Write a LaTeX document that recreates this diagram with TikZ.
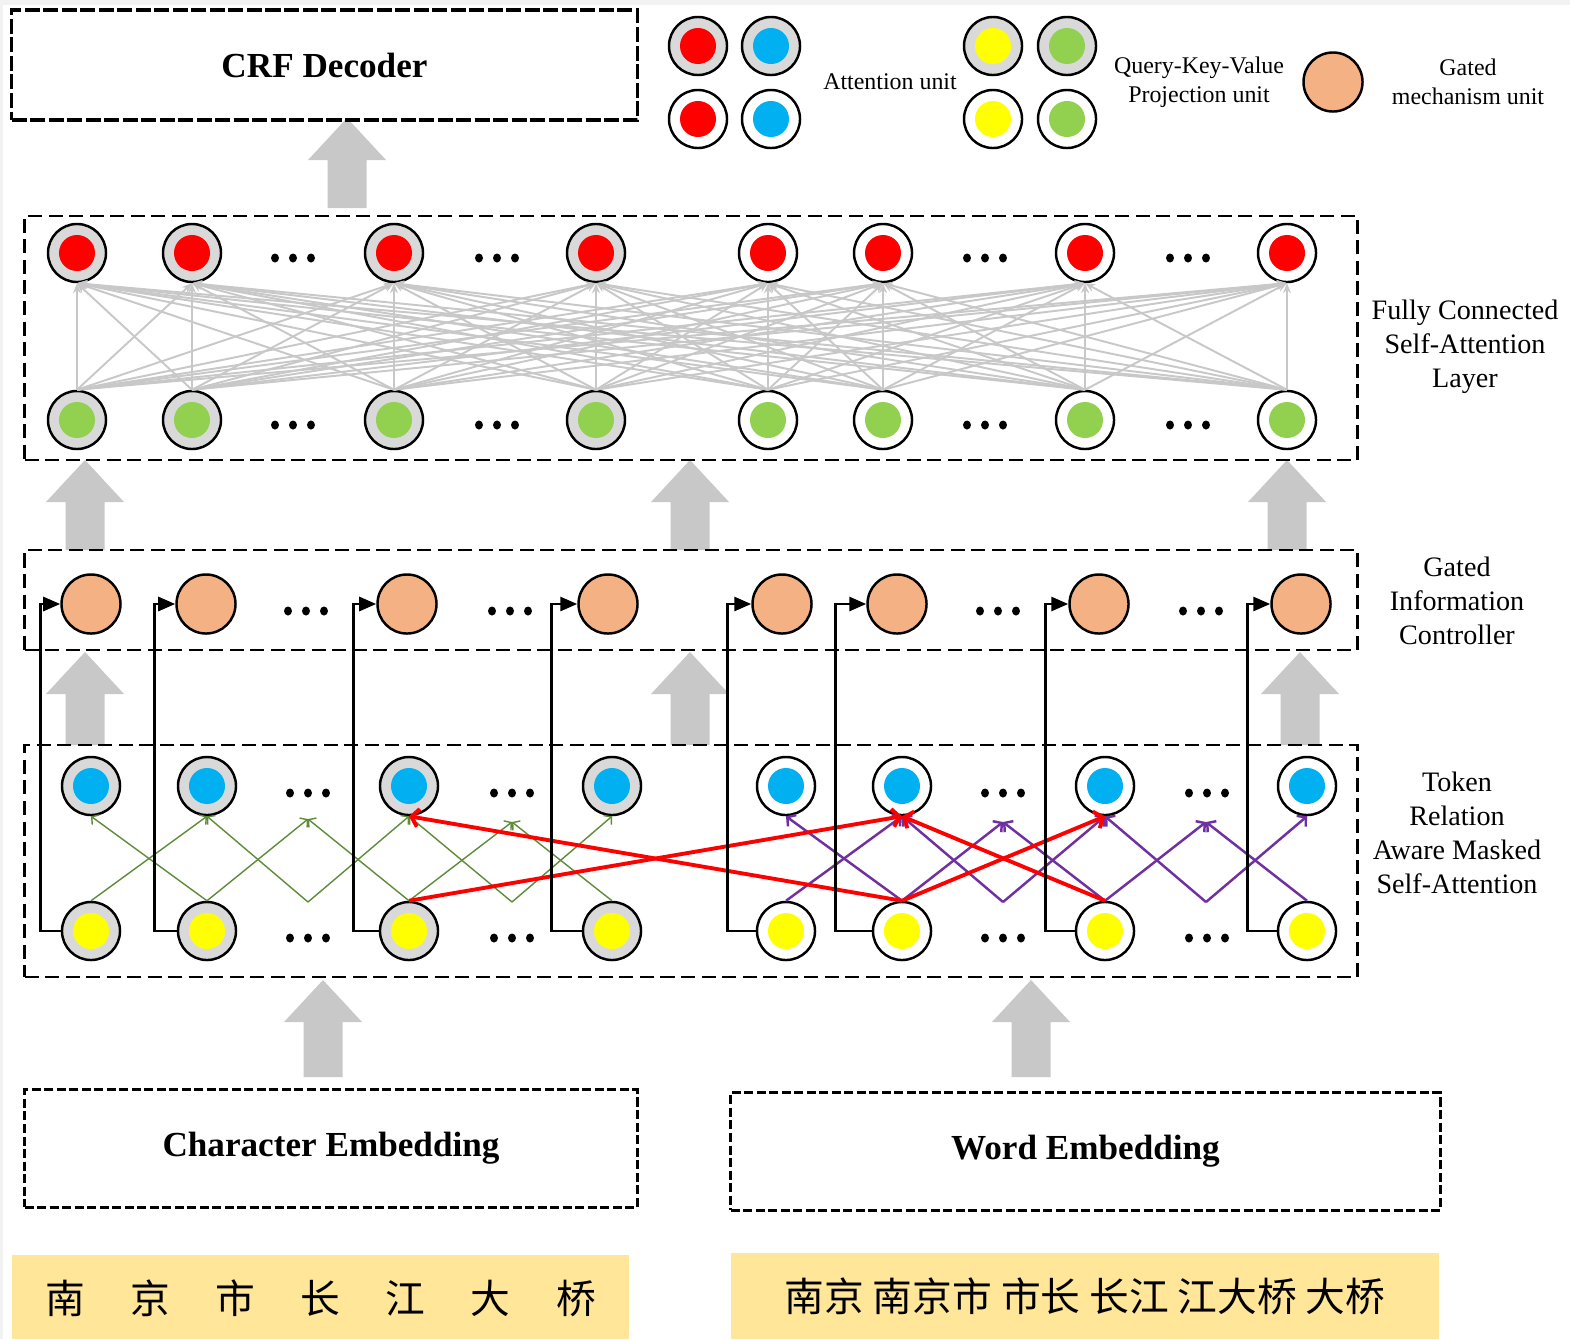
\documentclass[tikz,border=0pt]{standalone}
\usepackage{fontspec}
\setmainfont{Liberation Serif}
\newfontfamily\cjk{Noto Sans CJK SC}
\usetikzlibrary{arrows.meta, positioning, shapes}

\definecolor{ringgray}{HTML}{D9D9D9}
\definecolor{attred}{HTML}{FF0000}
\definecolor{keyblue}{HTML}{00B0F0}
\definecolor{qyellow}{HTML}{FFFF00}
\definecolor{vgreen}{HTML}{92D050}
\definecolor{gateorange}{HTML}{F4B183}
\definecolor{linkgray}{HTML}{C8C8C8}
\definecolor{blockgray}{HTML}{C8C8C8}
\definecolor{maskgreen}{HTML}{5E8C3A}
\definecolor{maskpurple}{HTML}{7030A0}
\definecolor{embbg}{HTML}{FFE699}

% wide grey arrow pointing up: x, bottom y, tip y
\newcommand{\blockup}[3]{%
  \fill[blockgray] (#1-19.5,#2) -- (#1-19.5,#3+42) -- (#1-39,#3+42) -- (#1,#3)
    -- (#1+39,#3+42) -- (#1+19.5,#3+42) -- (#1+19.5,#2) -- cycle;}
% three bold dots
\newcommand{\threedots}[2]{%
  \foreach \d in {-18,0,18} {\fill (#1+\d,#2) ellipse (4 and 4.5);}}

\begin{document}
\begin{tikzpicture}[x=0.01cm, y=-0.01cm,
    unitcell/.style={circle, draw, line width=0.7pt, minimum size=0.58cm, inner sep=0pt},
    grayunit/.style={unitcell, fill=ringgray,
      path picture={\fill[#1] (path picture bounding box.center) circle (0.18cm);}},
    whiteunit/.style={unitcell, fill=white,
      path picture={\fill[#1] (path picture bounding box.center) circle (0.18cm);}},
    gateunit/.style={unitcell, fill=gateorange, minimum size=0.59cm},
    layerbox/.style={draw, line width=0.75pt, dash pattern=on 0.14cm off 0.065cm, inner sep=0pt},
    crfbox/.style={draw, line width=0.95pt, dash pattern=on 0.15cm off 0.035cm, inner sep=0pt,
      font=\fontsize{10}{12}\selectfont\bfseries},
    embbox/.style={draw, line width=0.85pt, dash pattern=on 0.09cm off 0.035cm, inner sep=0pt,
      font=\fontsize{10}{12}\selectfont\bfseries},
    sidelabel/.style={align=center, font=\fontsize{8}{9.7}\selectfont},
    leglabel/.style={align=center, font=\fontsize{6.8}{8.25}\selectfont},
    fclink/.style={linkgray, line width=0.55pt, -{Stealth[length=0.1cm, width=0.08cm]}},
    greenlink/.style={maskgreen, line width=0.4pt, -{Straight Barb[length=0.05cm, width=0.12cm]}},
    purplelink/.style={maskpurple, line width=0.7pt, -{Straight Barb[length=0.06cm, width=0.14cm]}},
    redlink/.style={attred, line width=1.1pt, -{Straight Barb[length=0.07cm, width=0.18cm]}},
    feedline/.style={line width=0.8pt, -{Triangle[length=0.17cm, width=0.14cm]}},
  ]
  \fill[black!5] (0,0) rectangle (1570,1339);
  \fill[white] (3,5) rectangle (1570,1339);
  \useasboundingbox (0,0) rectangle (1570,1339);

  % grey arrows between layers
  \blockup{347}{208}{118}
  \foreach \x in {85,690,1287} {\blockup{\x}{550}{460}}
  \foreach \x in {85,690,1300} {\blockup{\x}{745}{652}}
  \blockup{323}{1077}{980}
  \blockup{1031}{1077}{980}

  % boxes
  \node[crfbox, minimum width=6.25cm, minimum height=1.1cm] (crf) at (324.5,65) {CRF Decoder};
  \node[layerbox, minimum width=13.32cm, minimum height=2.44cm] (fcbox) at (691,338) {};
  \node[layerbox, minimum width=13.32cm, minimum height=1.0cm] (gatebox) at (691,600) {};
  \node[layerbox, minimum width=13.32cm, minimum height=2.32cm] (tokbox) at (691,861) {};
  \node[embbox, minimum width=6.12cm, minimum height=1.17cm] (charemb) at (331,1148.5) {Character Embedding};
  \node[embbox, minimum width=7.09cm, minimum height=1.17cm] (wordemb) at (1085.5,1151.5) {Word Embedding};

  % input text
  \node[fill=embbg, minimum width=6.17cm, minimum height=0.84cm] (charrow) at (320.5,1297) {};
  \foreach \c [count=\k] in {南,京,市,长,江,大,桥}
    \node[font=\cjk\fontsize{11.3}{13}\selectfont] (ch\k) at (65+85.17*\k-85.17,1298) {\c};
  \node[fill=embbg, minimum width=7.08cm, minimum height=0.86cm,
    font=\cjk\fontsize{11.3}{13}\selectfont] (wordrow) at (1085,1296) {南京 南京市 市长 长江 江大桥 大桥};

  % side labels
  \node[sidelabel] (fclabel) at (1465,347) {Fully Connected\\Self-Attention\\Layer};
  \node[sidelabel] (gatelabel) at (1457,601) {Gated\\Information\\Controller};
  \node[sidelabel] (toklabel) at (1457,833) {Token\\Relation\\Aware Masked\\Self-Attention};

  % legend
  \node[grayunit=attred] (legredg) at (698,46) {};
  \node[grayunit=keyblue] (legblueg) at (771,46) {};
  \node[whiteunit=attred] (legredw) at (698,119) {};
  \node[whiteunit=keyblue] (legbluew) at (771,119) {};
  \node[leglabel] (legatt) at (890,82) {Attention unit};
  \node[grayunit=qyellow] (legylwg) at (993,46) {};
  \node[grayunit=vgreen] (leggrng) at (1067,46) {};
  \node[whiteunit=qyellow] (legylww) at (993,119) {};
  \node[whiteunit=vgreen] (leggrnw) at (1067,119) {};
  \node[leglabel] (legqkv) at (1199,82) {Query-Key-Value\\Projection unit};
  \node[gateunit] (leggate) at (1333,82) {};
  \node[leglabel] (leggated) at (1468,82) {Gated\\mechanism unit};

  % fully connected layer
  \foreach \i/\x in {1/77,2/192,3/394,4/596} {
    \node[grayunit=attred] (red\i) at (\x,253) {};
    \node[grayunit=vgreen] (grn\i) at (\x,420) {};
  }
  \foreach \i/\x in {5/768,6/883,7/1085,8/1287} {
    \node[whiteunit=attred] (red\i) at (\x,253) {};
    \node[whiteunit=vgreen] (grn\i) at (\x,420) {};
  }
  \foreach \x in {293,497,985,1188} {\threedots{\x}{258} \threedots{\x}{425}}
  \foreach \i in {1,...,8}
    \foreach \j in {1,...,8}
      \draw[fclink] (grn\i.north) -- (red\j.south);

  % gated controller
  \foreach \i/\x in {1/91,2/206,3/407,4/608,5/782,6/897,7/1099,8/1301}
    \node[gateunit] (gate\i) at (\x,604) {};
  \foreach \x in {306,510,998,1201} {\threedots{\x}{611}}

  % token relation aware masked self-attention
  \foreach \i/\x in {1/91,2/207,3/409,4/612} {
    \node[grayunit=keyblue] (blu\i) at (\x,786) {};
    \node[grayunit=qyellow] (ylw\i) at (\x,931) {};
  }
  \foreach \i/\x in {5/786,6/902,7/1105,8/1307} {
    \node[whiteunit=keyblue] (blu\i) at (\x,786) {};
    \node[whiteunit=qyellow] (ylw\i) at (\x,931) {};
  }
  \foreach \x in {308,512,1003,1207} {\threedots{\x}{793} \threedots{\x}{938}}
  \coordinate (ylwd1) at (308,902);
  \coordinate (blud1) at (308,819);
  \coordinate (ylwd2) at (512,902);
  \coordinate (blud2) at (512,822);
  \coordinate (ylwd3) at (1003,902);
  \coordinate (blud3) at (1003,822);
  \coordinate (ylwd4) at (1206,902);
  \coordinate (blud4) at (1206,822);

  \foreach \a/\b in {ylw1.north/blu2.south, ylw2.north/blu1.south, ylw2.north/blud1,
      ylwd1/blu2.south, ylwd1/blu3.south, ylw3.north/blud1, ylw3.north/blud2,
      ylwd2/blu3.south, ylwd2/blu4.south, ylw4.north/blud2}
    \draw[greenlink] (\a) -- (\b);
  \foreach \a/\b in {ylw5.north/blu6.south, ylw6.north/blu5.south, ylw6.north/blud3,
      ylwd3/blu6.south, ylwd3/blu7.south, ylw7.north/blud3, ylw7.north/blud4,
      ylwd4/blu7.south, ylwd4/blu8.south, ylw8.north/blud4}
    \draw[purplelink] (\a) -- (\b);

  \draw[redlink] (ylw6.north) -- (blu3.south);
  \draw[redlink] (ylw3.north) -- (blu6.south);
  \draw[redlink] (ylw7.north) -- (blu6.south);
  \draw[redlink] (ylw6.north) -- (blu7.south);

  % skip lines into the gates
  \foreach \i/\dx in {1/20,2/22,3/25,4/30,5/28,6/36,7/29,8/29}
    \draw[feedline] (ylw\i.west) -- ++(-\dx,0) |- (gate\i.west);
\end{tikzpicture}
\end{document}
